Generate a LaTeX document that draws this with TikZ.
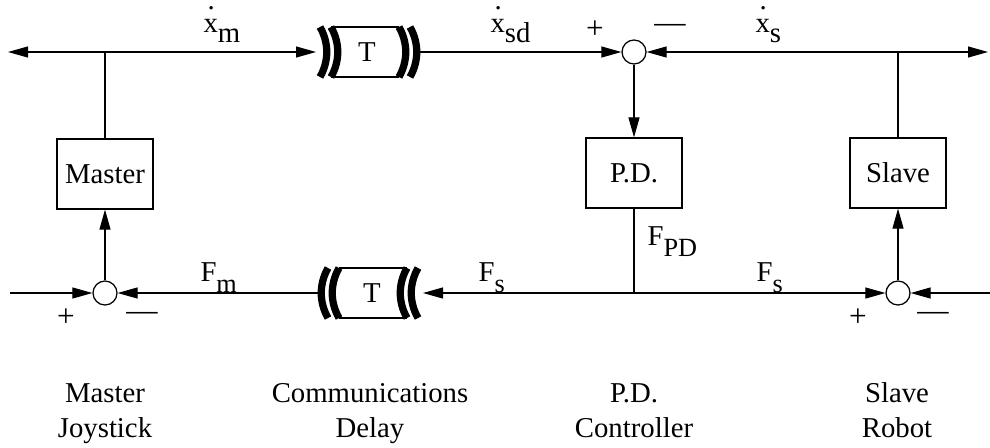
\documentclass[tikz,border=0pt]{standalone}
\usepackage{fontspec}
\setmainfont{Liberation Serif}
\usepackage{tikz}
\usetikzlibrary{arrows.meta,calc}
\newcommand\rate[1]{\rlap{\hspace{0.14em}\raisebox{9pt}{.}}x\raisebox{-4pt}{#1}}
\newcommand\force[1]{F\raisebox{-4.6pt}{\fontsize{10.5}{12}\selectfont #1}}
\tikzset{
  block/.style={rectangle, draw, line width=0.5pt, minimum width=38.4pt,
                minimum height=28pt, inner sep=0pt},
  summer/.style={circle, draw, line width=0.5pt, minimum size=9.6pt, inner sep=0pt},
  delaybox/.style={rectangle, minimum width=40.4pt, minimum height=19.6pt, inner sep=0pt},
  flow/.style={-{Triangle[length=8pt,width=4.4pt]}, line width=0.45pt},
  wire/.style={line width=0.45pt},
  bracket/.style={line width=2.9pt},
  sign/.style={inner sep=0pt, font=\fontsize{12.5}{14}\selectfont},
  caption/.style={align=center, anchor=base, inner sep=0pt},
}
\begin{document}
\begin{tikzpicture}[x=0.4pt, y=-0.4pt, every node/.style={font=\fontsize{11.5}{14}\selectfont}]
  \useasboundingbox (0,0) rectangle (990,447);
  % blocks
  \node[block] (master) at (105,174) {Master};
  \node[block] (pd) at (634,173) {P.D.};
  \node[block] (slave) at (898,173) {Slave};
  % summing points
  \node[summer] (sumM) at (105,293) {};
  \node[summer] (sumPD) at (634,52) {};
  \node[summer] (sumS) at (898,293) {};
  % delays
  \node[delaybox] (delayTop) at (367,52) {T};
  \node[delaybox] (delayBot) at (372,293) {T};
  \draw[wire] ($(delayTop.north west)+(15,0)$) -- ($(delayTop.north west)+(83,0)$);
  \draw[wire] ($(delayTop.south west)+(15,0)$) -- ($(delayTop.south west)+(83,0)$);
  \draw[wire] ($(delayBot.north west)+(18,0)$) -- ($(delayBot.north west)+(86,0)$);
  \draw[wire] ($(delayBot.south west)+(18,0)$) -- ($(delayBot.south west)+(86,0)$);
  \foreach \a in {4,15,83,94}
    \draw[bracket] ($(delayTop.north west)+(\a,0)$) .. controls +(9,16) and +(9,-16) .. ($(delayTop.south west)+(\a,0)$);
  \foreach \a in {7,18,86,97}
    \draw[bracket] ($(delayBot.north west)+(\a,0)$) .. controls +(-9,16) and +(-9,-16) .. ($(delayBot.south west)+(\a,0)$);
  % branch points and ends
  \coordinate (leftTop) at (8,52);
  \coordinate (rightTop) at (988,52);
  \coordinate (masterTop) at (105,52);
  \coordinate (slaveTop) at (898,52);
  \coordinate (leftBot) at (10,293);
  \coordinate (rightBot) at (990,293);
  \coordinate (pdBot) at (634,293);
  % velocity path (top)
  \draw[flow] (masterTop) -- (leftTop);
  \draw[wire] (masterTop) -- (master);
  \draw[flow] (masterTop) -- (delayTop);
  \draw[flow] (delayTop) -- (sumPD);
  \draw[flow] (slaveTop) -- (sumPD);
  \draw[flow] (slaveTop) -- (rightTop);
  \draw[wire] (slaveTop) -- (slave);
  \draw[flow] (sumPD) -- (pd);
  % force path (bottom)
  \draw[wire] (pd) -- (pdBot);
  \draw[flow] (pdBot) -- (delayBot);
  \draw[flow] (pdBot) -- (sumS);
  \draw[flow] (delayBot) -- (sumM);
  \draw[flow] (leftBot) -- (sumM);
  \draw[flow] (rightBot) -- (sumS);
  \draw[flow] (sumM) -- (master);
  \draw[flow] (sumS) -- (slave);
  % signal labels
  \node[anchor=base west, inner sep=0pt] (xm) at (203,32) {\rate{m}};
  \node[anchor=base west, inner sep=0pt] (xsd) at (490,32) {\rate{sd}};
  \node[anchor=base west, inner sep=0pt] (xs) at (755,32) {\rate{s}};
  \node[anchor=base west, inner sep=0pt] (fm) at (200,281) {\force{m}};
  \node[anchor=base west, inner sep=0pt] (fsl) at (478,281) {\force{s}};
  \node[anchor=base west, inner sep=0pt] (fpd) at (647,245) {\force{PD}};
  \node[anchor=base west, inner sep=0pt] (fsr) at (756,281) {\force{s}};
  % signs
  \node[sign] (pTop) at (595,30) {+};
  \node[sign] (mTop) at (670,28) {---};
  \node[sign] (pM) at (66,318) {+};
  \node[sign] (mM) at (142,316) {---};
  \node[sign] (pS) at (858,318) {+};
  \node[sign] (mS) at (933,316) {---};
  % captions
  \node[caption] (capM) at (105,437) {Master\\Joystick};
  \node[caption] (capD) at (370,437) {Communications\\Delay};
  \node[caption] (capP) at (634,437) {P.D.\\Controller};
  \node[caption] (capS) at (897,437) {Slave\\Robot};
\end{tikzpicture}
\end{document}
